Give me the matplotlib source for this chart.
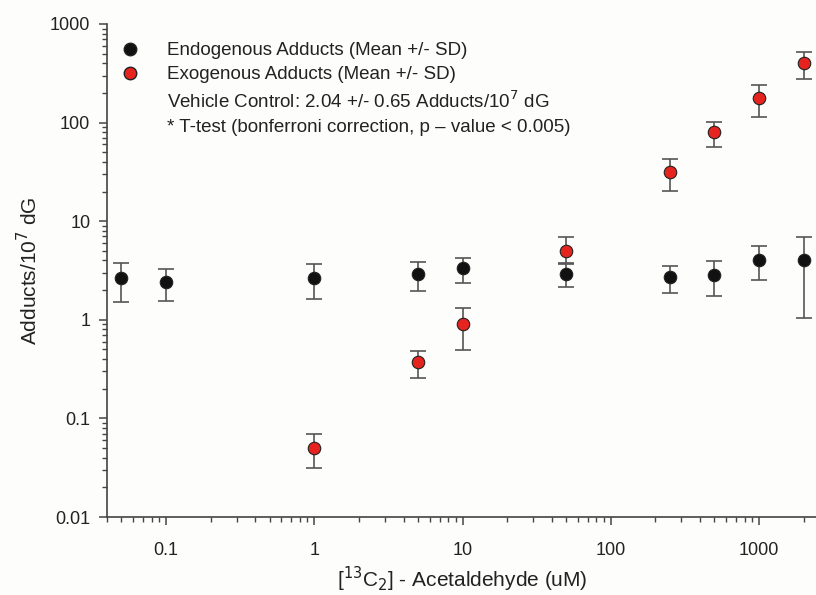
import matplotlib
matplotlib.use('Agg')
import matplotlib.pyplot as plt
from matplotlib.lines import Line2D
from matplotlib.ticker import FixedLocator, FuncFormatter, LogLocator, NullFormatter
import numpy as np

plt.rcParams['font.family'] = ['Liberation Sans', 'DejaVu Sans']

# acetaldehyde dose (uM)
endo_dose = [0.05, 0.1, 1, 5, 10, 50, 250, 500, 1000, 2000]
endo_mean = [2.67, 2.42, 2.64, 2.92, 3.33, 2.94, 2.72, 2.87, 4.07, 4.07]
endo_hi = [3.79, 3.25, 3.70, 3.85, 4.24, 3.70, 3.52, 3.97, 5.65, 6.96]
endo_lo = [1.52, 1.55, 1.63, 1.96, 2.36, 2.15, 1.88, 1.76, 2.53, 1.04]

exo_dose = [1, 5, 10, 50, 250, 500, 1000, 2000]
exo_mean = [0.0505, 0.37, 0.914, 5.02, 31.8, 79.7, 177, 405]
exo_hi = [0.070, 0.479, 1.31, 6.87, 43, 101, 239, 520]
exo_lo = [0.0316, 0.257, 0.498, 3.74, 20.2, 56, 114, 279]

legend_labels = ['Endogenous Adducts (Mean +/- SD)',
                 'Exogenous Adducts (Mean +/- SD)',
                 'Vehicle Control: 2.04 +/- 0.65 Adducts/10$^7$ dG',
                 '* T-test (bonferroni correction, p \u2013 value < 0.005)']

fig = plt.figure(figsize=(8.16, 5.95), dpi=100)
fig.patch.set_facecolor('#fdfdfb')
ax = fig.add_axes([107 / 816, 78 / 595, 711 / 816, 493 / 595])
ax.set_facecolor('#fdfdfb')

err_col = '#555555'

def draw(dose, mean, lo, hi, face, z):
    mean = np.array(mean)
    yerr = [mean - np.array(lo), np.array(hi) - mean]
    ax.errorbar(dose, mean, yerr=yerr, fmt='none', ecolor=err_col,
                elinewidth=1.2, capsize=6, capthick=1.2, zorder=z)
    ax.plot(dose, mean, 'o', ms=9, mfc=face, mec='#222222', mew=0.8,
            zorder=z + 1, clip_on=False)

draw(endo_dose, endo_mean, endo_lo, endo_hi, '#111111', 2)
draw(exo_dose, exo_mean, exo_lo, exo_hi, '#e5231f', 4)

ax.set_xscale('log')
ax.set_yscale('log')
ax.set_xlim(0.04, 2500)
ax.set_ylim(0.01, 1000)

fmt = FuncFormatter(lambda v, p: '%g' % v)
ax.xaxis.set_major_locator(FixedLocator([0.1, 1, 10, 100, 1000]))
ax.yaxis.set_major_locator(FixedLocator([0.01, 0.1, 1, 10, 100, 1000]))
ax.xaxis.set_major_formatter(fmt)
ax.yaxis.set_major_formatter(fmt)
ax.xaxis.set_minor_locator(LogLocator(base=10, subs=np.arange(2, 10), numticks=20))
ax.yaxis.set_minor_locator(LogLocator(base=10, subs=np.arange(2, 10), numticks=20))
ax.xaxis.set_minor_formatter(NullFormatter())
ax.yaxis.set_minor_formatter(NullFormatter())

for s in ['top', 'right']:
    ax.spines[s].set_visible(False)
for s in ['left', 'bottom']:
    ax.spines[s].set_color('#444444')
    ax.spines[s].set_linewidth(1.2)

ax.tick_params(which='major', length=6, width=1.1, color='#444444',
               labelsize=13, labelcolor='#222222')
ax.tick_params(axis='x', which='major', pad=12)
ax.tick_params(axis='y', which='major', pad=6)
ax.tick_params(which='minor', length=3.5, width=1.0, color='#444444')

ax.set_xlabel('[$^{13}$C$_2$] - Acetaldehyde (uM)', fontsize=15, color='#222222', labelpad=4)
ax.set_ylabel('Adducts/10$^7$ dG', fontsize=15, color='#222222', labelpad=6)

handles = [Line2D([], [], ls='none', marker='o', ms=9, mfc='#111111', mec='#222222'),
           Line2D([], [], ls='none', marker='o', ms=9, mfc='#e5231f', mec='#222222'),
           Line2D([], [], ls='none'),
           Line2D([], [], ls='none')]
ax.legend(handles, legend_labels, loc='upper left', bbox_to_anchor=(0.0, 0.99),
          frameon=False, fontsize=13.5, handlelength=1.0, handletextpad=1.5,
          labelspacing=0.38, borderaxespad=0.3, labelcolor='#222222')

fig.savefig('out.png', dpi=100, facecolor=fig.get_facecolor())
